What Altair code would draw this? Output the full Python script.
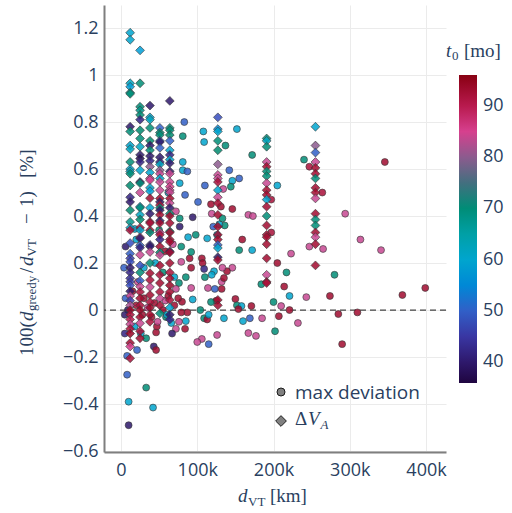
import altair as alt
import pandas as pd

# ---------------- data (x in thousands of km, y in %, t in months) -------------
circ_right_x = [346, 294, 314, 341, 247, 265, 223, 240, 247, 264, 205, 197, 197, 205, 217, 280, 184, 214, 221, 243,
                274, 369, 399, 200, 210, 221, 207, 185, 285, 310, 232, 202, 177, 290]
circ_right_y = [0.63, 0.41, 0.30, 0.255, 0.27, 0.26, 0.24, 0.64, 0.61, 0.50, 0.53, 0.47, 0.33, 0.20, 0.16, 0.15, 0.11, 0.10, 0.06, 0.055,
                0.06, 0.064, 0.094, 0.034, 0.017, 0.0, -0.026, -0.035, -0.017, -0.01, -0.055, -0.09, -0.11, -0.145]
circ_right_t = [93, 84, 84, 84, 84, 84, 84, 70, 92, 92, 60, 92, 92, 93, 70, 70, 70, 93, 60, 84,
                93, 93, 93, 70, 84, 93, 93, 84, 93, 93, 84, 70, 84, 93]

circ_mid_x = [159, 155, 172, 146, 139, 106, 107, 109, 92, 122, 119, 110, 132, 114, 123, 132, 150, 125, 118, 152,
              158, 171, 154, 109, 113, 115, 135, 160, 169, 167, 126, 106, 100, 115]
circ_mid_y = [0.30, 0.255, 0.255, 0.18, 0.165, 0.22, 0.20, 0.175, 0.18, 0.165, 0.15, 0.14, 0.12, 0.094, 0.09, 0.09, 0.047, 0.04, 0.034, 0.02,
              0.017, 0.017, 0.004, -0.035, -0.04, -0.02, -0.035, -0.047, -0.035, -0.098, -0.106, -0.123, -0.136, -0.145]
circ_mid_t = [93, 70, 60, 84, 93, 93, 93, 42, 93, 60, 60, 70, 84, 84, 50, 93, 93, 93, 70, 70,
              60, 93, 93, 70, 93, 60, 60, 60, 50, 84, 84, 84, 84, 50]

circ_up_x = [83, 81, 108, 109, 152, 137, 172, 81, 81, 87, 142, 155, 146, 144, 134, 77, 110, 84, 101, 118,
             146, 119, 167, 173, 77, 94, 77, 121, 136, 88, 98, 113, 129, 131, 133, 126, 133, 135, 90, 79,
             85, 76, 92, 79, 92, 18]
circ_up_y = [0.80, 0.74, 0.76, 0.715, 0.77, 0.70, 0.66, 0.63, 0.595, 0.59, 0.595, 0.56, 0.55, 0.525, 0.515, 0.54, 0.53, 0.49, 0.46, 0.45,
             0.43, 0.41, 0.405, 0.40, 0.39, 0.395, 0.355, 0.355, 0.36, 0.31, 0.32, 0.305, 0.365, 0.44, 0.39, 0.32, 0.18, 0.136, 0.22, 0.205,
             0.14, 0.115, 0.094, 0.27, 0.247, 0.345]
circ_up_t = [50, 70, 60, 60, 60, 70, 70, 60, 60, 50, 50, 50, 60, 70, 84, 60, 50, 50, 50, 93,
             93, 84, 84, 84, 70, 40, 40, 50, 70, 60, 70, 60, 60, 93, 70, 60, 84, 93, 93, 84,
             70, 70, 84, 70, 70, 60]

circ_low_x = [8, 10, 10, 33, 42, 26, 33, 43, 46, 21, 8, 85, 84, 72, 67, 76, 46, 47, 59, 66,
              94, 80, 87, 79, 104, 5, 6, 9, 15, 20, 28, 30, 35, 40, 44, 48, 55, 58, 60, 62,
              70, 72, 75, 5, 4, 6, 18, 22, 30, 45, 55, 58, 68, 70, 20, 50, 62, 72]
circ_low_y = [-0.275, -0.39, -0.49, -0.33, -0.415, -0.10, -0.12, -0.155, -0.17, -0.17, -0.195, -0.047, -0.08, -0.08, -0.10, -0.05, -0.095, -0.07, -0.03, -0.055,
              0.045, 0.035, -0.01, -0.01, 0.0, -0.10, 0.05, 0.0, 0.08, 0.02, -0.02, 0.05, 0.01, -0.03, 0.03, -0.05, 0.0, 0.04, -0.02, 0.06,
              0.02, 0.09, 0.05, -0.02, 0.18, 0.27, -0.07, 0.12, 0.18, 0.20, 0.16, 0.25, 0.28, 0.14, 0.30, 0.34, 0.50, 0.42]
circ_low_t = [50, 60, 40, 70, 60, 60, 70, 40, 93, 50, 50, 60, 93, 84, 40, 84, 93, 93, 70, 60,
              60, 93, 93, 93, 70, 42, 50, 40, 93, 93, 93, 93, 84, 93, 93, 84, 93, 84, 60, 93,
              93, 84, 93, 40, 50, 40, 60, 84, 60, 60, 70, 93, 84, 60, 60, 70, 60, 84]

# diamond columns (Delta V_A)
dia_cols_x = [12, 25, 38, 51, 64, 127, 191, 255]
dia_a_y = [1.18, 1.15, 0.965, 0.95, 0.925, 0.92, 0.78, 0.76, 0.70, 0.685, 0.63, 0.60, 0.59, 0.58, 0.53, 0.48, 0.46, 0.425, 0.375, 0.35,
           0.34, 0.285, 0.24, 0.22, 0.205, 0.18, 0.16, 0.135, 0.12, 0.105, 0.08, 0.06, 0.04, 0.02, 0.0, -0.02, -0.04, -0.06, -0.08, -0.10,
           -0.14, -0.155, -0.205]
dia_a_t = [60, 60, 62, 58, 68, 70, 40, 70, 60, 62, 70, 60, 62, 70, 71, 42, 40, 71, 68, 60,
           92, 48, 50, 46, 48, 40, 42, 44, 46, 48, 40, 84, 46, 82, 94, 92, 90, 84, 92, 94,
           93, 85, 92]
dia_b_y = [1.105, 0.965, 0.865, 0.85, 0.83, 0.81, 0.765, 0.73, 0.695, 0.66, 0.645, 0.63, 0.595, 0.545, 0.54, 0.50, 0.44, 0.435, 0.405, 0.385,
           0.35, 0.34, 0.31, 0.305, 0.275, 0.265, 0.235, 0.19, 0.16, 0.125, 0.10, 0.077, 0.05, 0.02, 0.0, -0.03, -0.056, -0.09, -0.12]
dia_b_t = [58, 70, 70, 68, 70, 42, 71, 70, 62, 40, 38, 42, 60, 40, 70, 84, 60, 70, 62, 71,
           92, 60, 84, 40, 50, 42, 84, 48, 70, 50, 84, 92, 93, 92, 94, 93, 84, 92, 93]
dia_c_y = [0.87, 0.82, 0.81, 0.775, 0.72, 0.70, 0.68, 0.655, 0.635, 0.61, 0.585, 0.56, 0.553, 0.52, 0.506, 0.476, 0.435, 0.41, 0.375, 0.37,
           0.34, 0.33, 0.277, 0.27, 0.247, 0.20, 0.157, 0.128, 0.098, 0.064, 0.034, 0.01, -0.02, -0.05]
dia_c_t = [40, 60, 62, 70, 71, 40, 70, 40, 42, 80, 60, 84, 85, 60, 58, 93, 60, 40, 93, 92,
           93, 70, 42, 40, 84, 70, 93, 92, 84, 93, 92, 94, 93, 92]
dia_d_y = [0.775, 0.755, 0.745, 0.72, 0.715, 0.69, 0.65, 0.63, 0.62, 0.595, 0.58, 0.56, 0.545, 0.51, 0.475, 0.46, 0.447, 0.435, 0.425, 0.405,
           0.38, 0.37, 0.33, 0.32, 0.30, 0.27, 0.245, 0.234, 0.19, 0.15, 0.115, 0.077, 0.05, 0.02, -0.014]
dia_d_t = [50, 70, 70, 50, 40, 50, 40, 42, 62, 80, 84, 60, 84, 84, 93, 40, 92, 70, 40, 93,
           40, 93, 84, 92, 42, 93, 70, 84, 93, 92, 93, 92, 84, 93, 70]
dia_e_y = [0.89, 0.775, 0.765, 0.745, 0.72, 0.68, 0.66, 0.64, 0.625, 0.59, 0.58, 0.545, 0.525, 0.51, 0.50, 0.475, 0.455, 0.435, 0.41, 0.40,
           0.37, 0.335, 0.33, 0.30, 0.29, 0.25, 0.245, 0.20, 0.16, 0.135, 0.105, 0.077, 0.043, 0.01, -0.02, -0.04]
dia_e_t = [40, 70, 70, 71, 50, 60, 42, 60, 40, 40, 84, 84, 85, 84, 84, 93, 84, 40, 70, 93,
           93, 70, 93, 93, 93, 40, 93, 93, 92, 93, 94, 93, 92, 60, 40, 42]
dia_f_y = [0.82, 0.77, 0.76, 0.72, 0.68, 0.62, 0.575, 0.56, 0.545, 0.51, 0.48, 0.455, 0.405, 0.355, 0.32, 0.30, 0.277, 0.264, 0.225, 0.213,
           0.043, 0.02]
dia_f_t = [48, 55, 60, 70, 71, 80, 84, 84, 92, 60, 84, 93, 93, 93, 93, 93, 50, 60, 40, 93, 93, 93]
dia_g_y = [0.73, 0.72, 0.695, 0.63, 0.61, 0.59, 0.57, 0.54, 0.51, 0.49, 0.47, 0.44, 0.40, 0.36, 0.32, 0.31, 0.28, 0.22, 0.15, 0.12, 0.115]
dia_g_t = [70, 62, 70, 84, 93, 70, 70, 84, 93, 93, 60, 93, 70, 93, 93, 93, 93, 93, 84, 93, 92]
dia_h_y = [0.78, 0.70, 0.67, 0.63, 0.605, 0.58, 0.56, 0.52, 0.50, 0.475, 0.41, 0.385, 0.36, 0.33, 0.31, 0.28, 0.19]
dia_h_t = [60, 80, 50, 84, 93, 93, 70, 93, 93, 84, 93, 70, 70, 93, 84, 93, 93]

x_ticks = [0, 100, 200, 300, 400]
y_ticks = [-0.6, -0.4, -0.2, 0, 0.2, 0.4, 0.6, 0.8, 1.0, 1.2]
cbar_ticks = [40, 50, 60, 70, 80, 90]
cmap_dom = [36, 42, 47, 52, 59, 65, 71, 76, 80, 85, 90, 96]
cmap_rng = ["#1f0540", "#332282", "#3b44b8", "#2f6fcf", "#02a6d6", "#00a0a6",
            "#00896e", "#4f6878", "#8c5b8e", "#d6408e", "#b81a4e", "#880313"]

# ---------------- frames ----------------
def frame(xs, ys, ts):
    rows = list(zip(xs, ys, ts))
    return pd.DataFrame(rows, columns=["x", "y", "t"])

circ_df = pd.concat([
    frame(circ_right_x, circ_right_y, circ_right_t),
    frame(circ_mid_x, circ_mid_y, circ_mid_t),
    frame(circ_up_x, circ_up_y, circ_up_t),
    frame(circ_low_x, circ_low_y, circ_low_t),
], ignore_index=True)

dia_ys = [dia_a_y, dia_b_y, dia_c_y, dia_d_y, dia_e_y, dia_f_y, dia_g_y, dia_h_y]
dia_ts = [dia_a_t, dia_b_t, dia_c_t, dia_d_t, dia_e_t, dia_f_t, dia_g_t, dia_h_t]
dia_df = pd.concat([frame([cx] * len(ys), ys, ts) for cx, ys, ts in zip(dia_cols_x, dia_ys, dia_ts)],
                   ignore_index=True)

W, H = 342, 447
TXT = "#2a3f5f"
FONT = "Open Sans"
SERIF = "Liberation Serif"

xenc = alt.X("x:Q", scale=alt.Scale(domain=[-22.3, 426.2], nice=False, zero=False),
             axis=alt.Axis(values=x_ticks, title=None,
                           labelExpr="datum.value == 0 ? '0' : datum.value + 'k'"))
yenc = alt.Y("y:Q", scale=alt.Scale(domain=[-0.604, 1.298], nice=False, zero=False),
             axis=alt.Axis(values=y_ticks, title=None, format="~g"))
cscale = alt.Scale(domain=cmap_dom, range=cmap_rng)
cleg = alt.Legend(orient="none", legendX=355, legendY=70, direction="vertical",
                  gradientLength=308, gradientThickness=18, title=None, values=cbar_ticks,
                  labelFontSize=18, labelColor=TXT, labelFont=FONT, labelOffset=6, padding=0,
                  gradientStrokeWidth=0, labelOverlap=False)

rule = alt.Chart(pd.DataFrame({"y": [0]})).mark_rule(
    strokeDash=[6, 4], color="#444444", strokeWidth=1.3).encode(y=yenc)

circles = alt.Chart(circ_df).mark_point(
    shape="circle", filled=True, size=48, fillOpacity=0.85, stroke="#3a3a3a",
    strokeWidth=0.7, strokeOpacity=0.9).encode(
    x=xenc, y=yenc, color=alt.Color("t:Q", scale=cscale, legend=cleg))

diamonds = alt.Chart(dia_df).mark_point(
    shape="diamond", filled=True, size=78, fillOpacity=0.85, stroke="#3a3a3a",
    strokeWidth=0.7, strokeOpacity=0.9).encode(
    x=xenc, y=yenc, color=alt.Color("t:Q", scale=cscale, legend=cleg))

dummy = pd.DataFrame({"a": [0]})


def txt(s, x, y, size=19, font=SERIF, style="normal", angle=0, color=TXT):
    return alt.Chart(dummy).mark_text(
        align="left", baseline="alphabetic", fontSize=size, font=font,
        fontStyle=style, angle=angle, color=color).encode(
        x=alt.value(x), y=alt.value(y), text=alt.value(s))


# y-axis title pieces (rotated, reading upwards)
ytitle = [
    txt("100(", -71, 351, angle=270),
    txt("d", -71, 316, style="italic", angle=270),
    txt("greedy", -68.5, 306, size=13, angle=270),
    txt("/", -71, 268, angle=270),
    txt("d", -71, 261, style="italic", angle=270),
    txt("VT", -68.5, 251.5, size=13, angle=270),
    txt("\u2212", -71, 219, angle=270),
    txt("1)", -71, 202, angle=270),
    txt("[%]", -71, 173, angle=270),
]
# x-axis title pieces
xtitle = [
    txt("d", 134, 497, style="italic"),
    txt("VT", 144, 500.5, size=13),
    txt("[km]", 166, 497),
]
# colorbar title
ctitle = [
    txt("t", 342, 52, style="italic"),
    txt("0", 348, 54.5, size=13),
    txt("[mo]", 360, 52),
]
# symbol legend
leg_c = alt.Chart(dummy).mark_point(shape="circle", filled=True, fill="#808080", fillOpacity=1,
                                    stroke="#1a1a1a", strokeWidth=1, size=64).encode(
    x=alt.value(177), y=alt.value(387))
leg_d = alt.Chart(dummy).mark_point(shape="diamond", filled=True, fill="#808080", fillOpacity=1,
                                    stroke="#1a1a1a", strokeWidth=1, size=115).encode(
    x=alt.value(177), y=alt.value(416))
legtxt = [
    txt("max deviation", 191, 394, size=19, font=FONT),
    txt("\u0394", 191, 420, size=19),
    txt("V", 204, 420, size=19, style="italic"),
    txt("A", 216.5, 423.5, size=13, style="italic"),
]

chart = alt.layer(
    rule, circles, diamonds, leg_c, leg_d, *legtxt, *ytitle, *xtitle, *ctitle
).properties(
    width=W, height=H,
    padding={"left": 104, "top": 5, "right": 66, "bottom": 61},
    autosize=alt.AutoSizeParams(type="none"),
    background="white",
).configure_view(stroke=None).configure_axis(
    grid=True, gridColor="#ebebeb", gridWidth=1,
    domainColor="#7f7f7f", domainWidth=2,
    ticks=False, tickSize=0,
    labelFont=FONT, labelFontSize=18, labelColor=TXT,
).configure_axisX(labelPadding=9).configure_axisY(labelPadding=6)

chart.save("out.html", embed_options={"renderer": "svg", "actions": False})
